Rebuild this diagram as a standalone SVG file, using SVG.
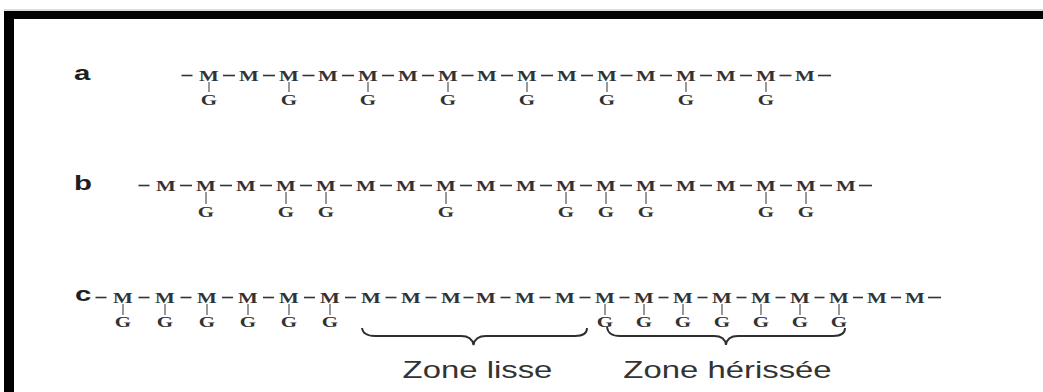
<svg xmlns="http://www.w3.org/2000/svg" width="1043" height="392" viewBox="0 0 1043 392">
<style>
.m{font-family:"Liberation Serif","Times New Roman",serif;font-weight:bold;font-size:15px;fill:#333;text-anchor:middle}
.lbl{font-family:"Liberation Sans",Arial,sans-serif;font-weight:bold;font-size:21px;fill:#1e1e1e}
.zone{font-family:"Liberation Sans",Arial,sans-serif;font-size:23px;fill:#333;text-anchor:middle}
.bond{stroke:#333;stroke-width:1.6}
.tick{stroke:#444;stroke-width:1.1}
.brace{fill:none;stroke:#2e2e2e;stroke-width:1.9}
</style>
<rect width="1043" height="392" fill="#fff"/>
<g id="frame">
<rect x="4" y="9.5" width="1039" height="1" fill="#bbb"/>
<rect x="4" y="11" width="1039" height="8" fill="#000"/>
<rect x="4" y="11" width="10" height="381" fill="#000"/>
</g>
<g id="labels">
<text class="lbl" transform="translate(74 80) scale(1.4 1)">a</text>
<text class="lbl" transform="translate(74 190) scale(1.4 1)">b</text>
<text class="lbl" transform="translate(75 301) scale(1.4 1)">c</text>
</g>
<g id="connectors">
<g class="bond">
<line x1="181.5" y1="75.5" x2="192.5" y2="75.5"/><line x1="223" y1="75.5" x2="235" y2="75.5"/><line x1="263" y1="75.5" x2="275" y2="75.5"/><line x1="302.5" y1="75.5" x2="314.5" y2="75.5"/><line x1="342" y1="75.5" x2="354" y2="75.5"/><line x1="382" y1="75.5" x2="394" y2="75.5"/><line x1="422" y1="75.5" x2="434" y2="75.5"/><line x1="461.5" y1="75.5" x2="473.5" y2="75.5"/><line x1="501" y1="75.5" x2="513" y2="75.5"/><line x1="541" y1="75.5" x2="553" y2="75.5"/><line x1="581" y1="75.5" x2="593" y2="75.5"/><line x1="620.5" y1="75.5" x2="632.5" y2="75.5"/><line x1="660" y1="75.5" x2="672" y2="75.5"/><line x1="700" y1="75.5" x2="712" y2="75.5"/><line x1="740" y1="75.5" x2="752" y2="75.5"/><line x1="779.5" y1="75.5" x2="791.5" y2="75.5"/><line x1="818" y1="75.5" x2="831" y2="75.5"/>
</g>
<g class="tick">
<line x1="209" y1="82" x2="209" y2="92"/><line x1="289" y1="82" x2="289" y2="92"/><line x1="368" y1="82" x2="368" y2="92"/><line x1="448" y1="82" x2="448" y2="92"/><line x1="527" y1="82" x2="527" y2="92"/><line x1="607" y1="82" x2="607" y2="92"/><line x1="686" y1="82" x2="686" y2="92"/><line x1="766" y1="82" x2="766" y2="92"/>
</g>
<g class="bond">
<line x1="138.5" y1="185.5" x2="149.5" y2="185.5"/><line x1="180" y1="185.5" x2="192" y2="185.5"/><line x1="220" y1="185.5" x2="232" y2="185.5"/><line x1="260" y1="185.5" x2="272" y2="185.5"/><line x1="300" y1="185.5" x2="312" y2="185.5"/><line x1="340" y1="185.5" x2="352" y2="185.5"/><line x1="380" y1="185.5" x2="392" y2="185.5"/><line x1="420" y1="185.5" x2="432" y2="185.5"/><line x1="460" y1="185.5" x2="472" y2="185.5"/><line x1="500" y1="185.5" x2="512" y2="185.5"/><line x1="540" y1="185.5" x2="552" y2="185.5"/><line x1="580" y1="185.5" x2="592" y2="185.5"/><line x1="620" y1="185.5" x2="632" y2="185.5"/><line x1="660" y1="185.5" x2="672" y2="185.5"/><line x1="700" y1="185.5" x2="712" y2="185.5"/><line x1="740" y1="185.5" x2="752" y2="185.5"/><line x1="780" y1="185.5" x2="792" y2="185.5"/><line x1="820" y1="185.5" x2="832" y2="185.5"/><line x1="859" y1="185.5" x2="872" y2="185.5"/>
</g>
<g class="tick">
<line x1="206" y1="192" x2="206" y2="204"/><line x1="286" y1="192" x2="286" y2="204"/><line x1="326" y1="192" x2="326" y2="204"/><line x1="446" y1="192" x2="446" y2="204"/><line x1="566" y1="192" x2="566" y2="204"/><line x1="606" y1="192" x2="606" y2="204"/><line x1="646" y1="192" x2="646" y2="204"/><line x1="766" y1="192" x2="766" y2="204"/><line x1="806" y1="192" x2="806" y2="204"/>
</g>
<g class="bond">
<line x1="95.5" y1="297.5" x2="106.5" y2="297.5"/><line x1="138.5" y1="297.5" x2="149.5" y2="297.5"/><line x1="180.5" y1="297.5" x2="191.5" y2="297.5"/><line x1="222" y1="297.5" x2="233" y2="297.5"/><line x1="263" y1="297.5" x2="274" y2="297.5"/><line x1="304" y1="297.5" x2="315" y2="297.5"/><line x1="345" y1="297.5" x2="356" y2="297.5"/><line x1="385.5" y1="297.5" x2="396.5" y2="297.5"/><line x1="425.5" y1="297.5" x2="436.5" y2="297.5"/><line x1="463.5" y1="297.5" x2="473.5" y2="297.5"/><line x1="500.5" y1="297.5" x2="510.5" y2="297.5"/><line x1="539.5" y1="297.5" x2="550.5" y2="297.5"/><line x1="579.5" y1="297.5" x2="590.5" y2="297.5"/><line x1="619.5" y1="297.5" x2="629.5" y2="297.5"/><line x1="658.5" y1="297.5" x2="668.5" y2="297.5"/><line x1="697.5" y1="297.5" x2="707.5" y2="297.5"/><line x1="736.5" y1="297.5" x2="746.5" y2="297.5"/><line x1="775.5" y1="297.5" x2="785.5" y2="297.5"/><line x1="814.5" y1="297.5" x2="824.5" y2="297.5"/><line x1="853" y1="297.5" x2="863" y2="297.5"/><line x1="891" y1="297.5" x2="901" y2="297.5"/><line x1="928" y1="297.5" x2="941" y2="297.5"/>
</g>
<g class="tick">
<line x1="123" y1="304" x2="123" y2="315"/><line x1="165" y1="304" x2="165" y2="315"/><line x1="207" y1="304" x2="207" y2="315"/><line x1="248" y1="304" x2="248" y2="315"/><line x1="289" y1="304" x2="289" y2="315"/><line x1="330" y1="304" x2="330" y2="315"/><line x1="605" y1="304" x2="605" y2="315"/><line x1="644" y1="304" x2="644" y2="315"/><line x1="683" y1="304" x2="683" y2="315"/><line x1="722" y1="304" x2="722" y2="315"/><line x1="761" y1="304" x2="761" y2="315"/><line x1="800" y1="304" x2="800" y2="315"/><line x1="839" y1="304" x2="839" y2="315"/>
</g>
</g>
<g id="row-a">
<g id="a1"><text class="m" transform="translate(209 80.5) scale(1.4 1)">M</text><text class="m" transform="translate(209 105) scale(1.4 1)">G</text></g>
<g id="a2"><text class="m" transform="translate(249 80.5) scale(1.4 1)">M</text></g>
<g id="a3"><text class="m" transform="translate(289 80.5) scale(1.4 1)">M</text><text class="m" transform="translate(289 105) scale(1.4 1)">G</text></g>
<g id="a4"><text class="m" transform="translate(328 80.5) scale(1.4 1)">M</text></g>
<g id="a5"><text class="m" transform="translate(368 80.5) scale(1.4 1)">M</text><text class="m" transform="translate(368 105) scale(1.4 1)">G</text></g>
<g id="a6"><text class="m" transform="translate(408 80.5) scale(1.4 1)">M</text></g>
<g id="a7"><text class="m" transform="translate(448 80.5) scale(1.4 1)">M</text><text class="m" transform="translate(448 105) scale(1.4 1)">G</text></g>
<g id="a8"><text class="m" transform="translate(487 80.5) scale(1.4 1)">M</text></g>
<g id="a9"><text class="m" transform="translate(527 80.5) scale(1.4 1)">M</text><text class="m" transform="translate(527 105) scale(1.4 1)">G</text></g>
<g id="a10"><text class="m" transform="translate(567 80.5) scale(1.4 1)">M</text></g>
<g id="a11"><text class="m" transform="translate(607 80.5) scale(1.4 1)">M</text><text class="m" transform="translate(607 105) scale(1.4 1)">G</text></g>
<g id="a12"><text class="m" transform="translate(646 80.5) scale(1.4 1)">M</text></g>
<g id="a13"><text class="m" transform="translate(686 80.5) scale(1.4 1)">M</text><text class="m" transform="translate(686 105) scale(1.4 1)">G</text></g>
<g id="a14"><text class="m" transform="translate(726 80.5) scale(1.4 1)">M</text></g>
<g id="a15"><text class="m" transform="translate(766 80.5) scale(1.4 1)">M</text><text class="m" transform="translate(766 105) scale(1.4 1)">G</text></g>
<g id="a16"><text class="m" transform="translate(805 80.5) scale(1.4 1)">M</text></g>
</g>
<g id="row-b">
<g id="b1"><text class="m" transform="translate(166 190.5) scale(1.4 1)">M</text></g>
<g id="b2"><text class="m" transform="translate(206 190.5) scale(1.4 1)">M</text><text class="m" transform="translate(206 216.5) scale(1.4 1)">G</text></g>
<g id="b3"><text class="m" transform="translate(246 190.5) scale(1.4 1)">M</text></g>
<g id="b4"><text class="m" transform="translate(286 190.5) scale(1.4 1)">M</text><text class="m" transform="translate(286 216.5) scale(1.4 1)">G</text></g>
<g id="b5"><text class="m" transform="translate(326 190.5) scale(1.4 1)">M</text><text class="m" transform="translate(326 216.5) scale(1.4 1)">G</text></g>
<g id="b6"><text class="m" transform="translate(366 190.5) scale(1.4 1)">M</text></g>
<g id="b7"><text class="m" transform="translate(406 190.5) scale(1.4 1)">M</text></g>
<g id="b8"><text class="m" transform="translate(446 190.5) scale(1.4 1)">M</text><text class="m" transform="translate(446 216.5) scale(1.4 1)">G</text></g>
<g id="b9"><text class="m" transform="translate(486 190.5) scale(1.4 1)">M</text></g>
<g id="b10"><text class="m" transform="translate(526 190.5) scale(1.4 1)">M</text></g>
<g id="b11"><text class="m" transform="translate(566 190.5) scale(1.4 1)">M</text><text class="m" transform="translate(566 216.5) scale(1.4 1)">G</text></g>
<g id="b12"><text class="m" transform="translate(606 190.5) scale(1.4 1)">M</text><text class="m" transform="translate(606 216.5) scale(1.4 1)">G</text></g>
<g id="b13"><text class="m" transform="translate(646 190.5) scale(1.4 1)">M</text><text class="m" transform="translate(646 216.5) scale(1.4 1)">G</text></g>
<g id="b14"><text class="m" transform="translate(686 190.5) scale(1.4 1)">M</text></g>
<g id="b15"><text class="m" transform="translate(726 190.5) scale(1.4 1)">M</text></g>
<g id="b16"><text class="m" transform="translate(766 190.5) scale(1.4 1)">M</text><text class="m" transform="translate(766 216.5) scale(1.4 1)">G</text></g>
<g id="b17"><text class="m" transform="translate(806 190.5) scale(1.4 1)">M</text><text class="m" transform="translate(806 216.5) scale(1.4 1)">G</text></g>
<g id="b18"><text class="m" transform="translate(846 190.5) scale(1.4 1)">M</text></g>
</g>
<g id="row-c">
<g id="c1"><text class="m" transform="translate(123 302.5) scale(1.4 1)">M</text><text class="m" transform="translate(123 327) scale(1.4 1)">G</text></g>
<g id="c2"><text class="m" transform="translate(165 302.5) scale(1.4 1)">M</text><text class="m" transform="translate(165 327) scale(1.4 1)">G</text></g>
<g id="c3"><text class="m" transform="translate(207 302.5) scale(1.4 1)">M</text><text class="m" transform="translate(207 327) scale(1.4 1)">G</text></g>
<g id="c4"><text class="m" transform="translate(248 302.5) scale(1.4 1)">M</text><text class="m" transform="translate(248 327) scale(1.4 1)">G</text></g>
<g id="c5"><text class="m" transform="translate(289 302.5) scale(1.4 1)">M</text><text class="m" transform="translate(289 327) scale(1.4 1)">G</text></g>
<g id="c6"><text class="m" transform="translate(330 302.5) scale(1.4 1)">M</text><text class="m" transform="translate(330 327) scale(1.4 1)">G</text></g>
<g id="c7"><text class="m" transform="translate(371 302.5) scale(1.4 1)">M</text></g>
<g id="c8"><text class="m" transform="translate(411 302.5) scale(1.4 1)">M</text></g>
<g id="c9"><text class="m" transform="translate(451 302.5) scale(1.4 1)">M</text></g>
<g id="c10"><text class="m" transform="translate(486 302.5) scale(1.4 1)">M</text></g>
<g id="c11"><text class="m" transform="translate(525 302.5) scale(1.4 1)">M</text></g>
<g id="c12"><text class="m" transform="translate(565 302.5) scale(1.4 1)">M</text></g>
<g id="c13"><text class="m" transform="translate(605 302.5) scale(1.4 1)">M</text><text class="m" transform="translate(605 327) scale(1.4 1)">G</text></g>
<g id="c14"><text class="m" transform="translate(644 302.5) scale(1.4 1)">M</text><text class="m" transform="translate(644 327) scale(1.4 1)">G</text></g>
<g id="c15"><text class="m" transform="translate(683 302.5) scale(1.4 1)">M</text><text class="m" transform="translate(683 327) scale(1.4 1)">G</text></g>
<g id="c16"><text class="m" transform="translate(722 302.5) scale(1.4 1)">M</text><text class="m" transform="translate(722 327) scale(1.4 1)">G</text></g>
<g id="c17"><text class="m" transform="translate(761 302.5) scale(1.4 1)">M</text><text class="m" transform="translate(761 327) scale(1.4 1)">G</text></g>
<g id="c18"><text class="m" transform="translate(800 302.5) scale(1.4 1)">M</text><text class="m" transform="translate(800 327) scale(1.4 1)">G</text></g>
<g id="c19"><text class="m" transform="translate(839 302.5) scale(1.4 1)">M</text><text class="m" transform="translate(839 327) scale(1.4 1)">G</text></g>
<g id="c20"><text class="m" transform="translate(877 302.5) scale(1.4 1)">M</text></g>
<g id="c21"><text class="m" transform="translate(915 302.5) scale(1.4 1)">M</text></g>
</g>
<g id="zone-lisse">
<path class="brace" d="M362,328 Q363,336 375,336 L461,336 Q472,336 473.5,345 Q475,336 486,336 L575,336 Q587,336 587,328"/>
<text class="zone" transform="translate(477.5 378) scale(1.43 1)">Zone lisse</text>
</g>
<g id="zone-herissee">
<path class="brace" d="M607,327 Q608,336 620,336 L714,336 Q725,336 726,345 Q727,336 738,336 L833,336 Q845,336 845,328"/>
<text class="zone" transform="translate(727.5 378) scale(1.43 1)">Zone hérissée</text>
</g>
</svg>
